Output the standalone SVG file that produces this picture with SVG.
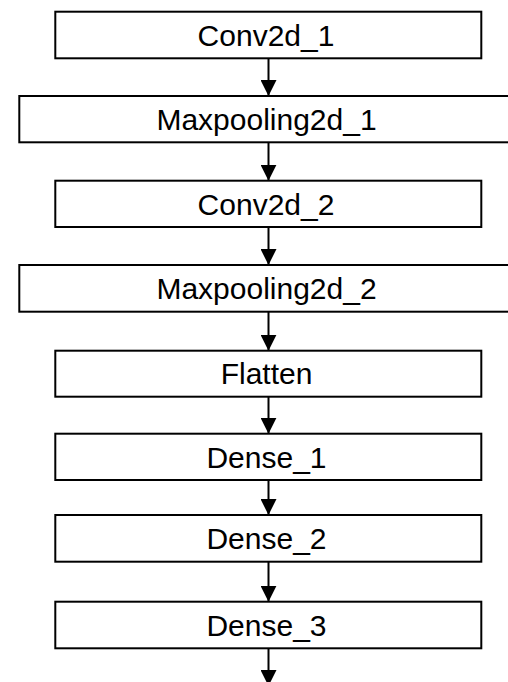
<svg xmlns="http://www.w3.org/2000/svg" width="508" height="682" viewBox="0 0 508 682">
  <style>
    .box { fill: #ffffff; stroke: #000000; stroke-width: 2; }
    .label { font-family: "Liberation Sans", Arial, sans-serif; font-size: 30px; fill: #000000; text-anchor: middle; }
    .link { stroke: #000000; stroke-width: 2; fill: none; marker-end: url(#arrow); }
  </style>
  <defs>
    <marker id="arrow" markerUnits="userSpaceOnUse" markerWidth="16" markerHeight="16" viewBox="0 0 16 16" refX="16" refY="8" orient="auto">
      <path d="M0,0 L16,8 L0,16 Z" fill="#000000"/>
    </marker>
  </defs>
  <rect width="508" height="682" fill="#ffffff"/>

  <g id="connectors">
    <line class="link" x1="268.5" y1="58.5" x2="268.5" y2="96"/>
    <line class="link" x1="268.5" y1="142.5" x2="268.5" y2="180.7"/>
    <line class="link" x1="268.5" y1="227" x2="268.5" y2="265"/>
    <line class="link" x1="268.5" y1="311.7" x2="268.5" y2="350.7"/>
    <line class="link" x1="268.5" y1="396.7" x2="268.5" y2="433.7"/>
    <line class="link" x1="268.5" y1="480" x2="268.5" y2="515"/>
    <line class="link" x1="268.5" y1="561.7" x2="268.5" y2="601.7"/>
    <line class="link" x1="268.5" y1="648.3" x2="268.5" y2="686"/>
  </g>

  <g id="conv2d_1">
    <rect class="box" x="55.3" y="11.7" width="426" height="46.6"/>
    <text class="label" x="266" y="45.5">Conv2d_1</text>
  </g>
  <g id="maxpooling2d_1">
    <rect class="box" x="19.3" y="96" width="498" height="46.3"/>
    <text class="label" x="266.5" y="130">Maxpooling2d_1</text>
  </g>
  <g id="conv2d_2">
    <rect class="box" x="55.3" y="180.7" width="426" height="46.3"/>
    <text class="label" x="266" y="214.5">Conv2d_2</text>
  </g>
  <g id="maxpooling2d_2">
    <rect class="box" x="19.3" y="265" width="498" height="46.7"/>
    <text class="label" x="266.5" y="299">Maxpooling2d_2</text>
  </g>
  <g id="flatten">
    <rect class="box" x="55.3" y="350.7" width="426" height="46"/>
    <text class="label" x="266.5" y="384.3">Flatten</text>
  </g>
  <g id="dense_1">
    <rect class="box" x="55.3" y="433.7" width="426" height="46.3"/>
    <text class="label" x="266.5" y="467.5">Dense_1</text>
  </g>
  <g id="dense_2">
    <rect class="box" x="55.3" y="515" width="426" height="46.7"/>
    <text class="label" x="266.5" y="549">Dense_2</text>
  </g>
  <g id="dense_3">
    <rect class="box" x="55.3" y="601.7" width="426" height="46.6"/>
    <text class="label" x="266.5" y="635.5">Dense_3</text>
  </g>
</svg>
